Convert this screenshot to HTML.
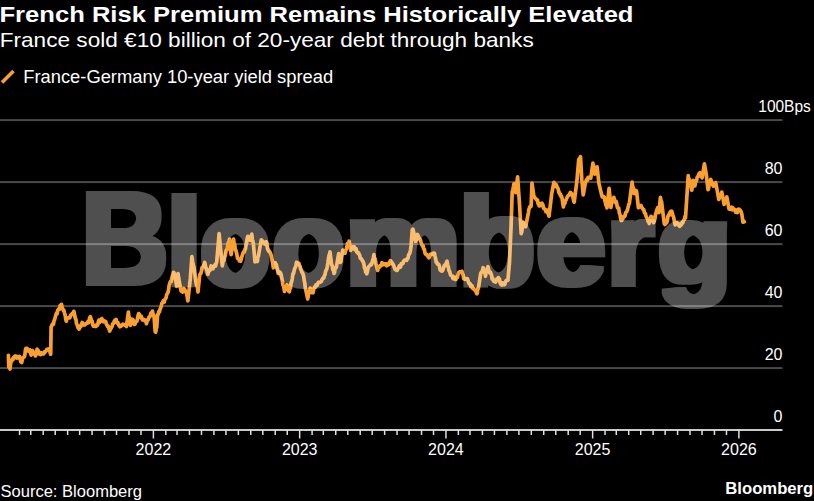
<!DOCTYPE html>
<html><head><meta charset="utf-8">
<style>
html,body{margin:0;padding:0;background:#000;}
body{width:814px;height:501px;overflow:hidden;position:relative;font-family:"Liberation Sans",sans-serif;color:#fff;}
svg{position:absolute;left:0;top:0;}
</style></head><body>
<svg width="814" height="501" viewBox="0 0 814 501" font-family="Liberation Sans, sans-serif">
<rect x="0" y="0" width="814" height="501" fill="#000"/>
<text x="-0.5" y="21.6" font-size="22.5" font-weight="bold" fill="#fff" textLength="634" lengthAdjust="spacingAndGlyphs">French Risk Premium Remains Historically Elevated</text>
<text x="-0.3" y="47.4" font-size="21" fill="#fff" textLength="534" lengthAdjust="spacingAndGlyphs">France sold €10 billion of 20-year debt through banks</text>
<line x1="2" y1="82.5" x2="13.5" y2="71" stroke="#f9a030" stroke-width="3.6" stroke-linecap="butt"/>
<text x="23.2" y="82.8" font-size="17.5" fill="#fff" textLength="310" lengthAdjust="spacingAndGlyphs">France-Germany 10-year yield spread</text>
<g fill="#4a4a4a"><rect x="0" y="119.1" width="782.5" height="2" /><rect x="0" y="181.1" width="782.5" height="2" /><rect x="0" y="243.1" width="782.5" height="2" /><rect x="0" y="305.1" width="782.5" height="2" /><rect x="0" y="367.1" width="782.5" height="2" /></g>
<path d="M8.4,355.4 L8.8,367.2 L9.4,367.1 L10.0,369.0 L10.6,363.6 L11.2,361.4 L11.8,360.5 L12.4,359.2 L12.9,359.8 L13.5,357.6 L14.0,358.0 L14.7,356.4 L15.3,355.9 L16.0,356.4 L16.5,358.1 L17.1,356.5 L17.6,357.4 L18.3,357.9 L18.9,358.2 L19.6,356.4 L20.1,358.0 L20.7,361.8 L21.2,361.1 L21.7,362.5 L22.3,359.7 L22.8,358.2 L23.6,357.2 L24.3,356.8 L24.8,355.3 L25.4,350.3 L25.9,348.4 L26.4,348.9 L27.0,348.4 L27.5,349.1 L28.1,349.5 L28.7,351.3 L29.3,350.1 L29.9,349.9 L30.5,352.4 L31.1,355.2 L31.7,353.5 L32.3,350.5 L32.8,350.8 L33.4,353.1 L33.9,353.6 L34.4,353.2 L35.0,355.1 L35.5,355.9 L36.0,354.9 L36.6,352.5 L37.1,349.2 L37.6,352.2 L38.2,350.5 L38.7,352.4 L39.4,354.0 L40.0,352.9 L40.7,354.6 L41.2,352.7 L41.8,354.0 L42.3,353.8 L43.0,353.1 L43.6,353.9 L44.3,352.0 L45.0,352.4 L45.6,351.3 L46.3,350.4 L46.8,349.4 L47.4,349.9 L47.9,349.5 L48.4,348.9 L49.0,350.3 L49.5,349.3 L50.1,352.8 L50.7,354.2 L51.1,326.9 L51.7,326.0 L52.3,324.0 L52.9,323.9 L53.5,324.3 L54.1,320.4 L54.7,319.7 L55.3,316.8 L55.9,314.7 L56.5,313.1 L57.1,313.8 L57.7,310.5 L58.3,309.4 L58.9,308.7 L59.6,309.0 L60.2,305.4 L60.9,305.3 L61.5,304.4 L62.1,307.1 L62.7,308.6 L63.3,310.4 L63.9,310.3 L64.5,312.9 L65.1,315.0 L65.7,318.8 L66.3,321.2 L66.9,318.4 L67.4,318.1 L68.0,318.0 L68.6,317.6 L69.2,318.0 L69.7,318.0 L70.3,316.7 L70.9,314.8 L71.5,314.9 L72.0,313.7 L72.6,313.1 L73.2,313.2 L73.8,311.3 L74.3,313.2 L74.8,316.0 L75.4,318.7 L75.9,319.3 L76.5,323.5 L77.2,324.9 L77.8,326.9 L78.5,328.5 L79.1,329.0 L79.7,327.9 L80.4,325.9 L81.0,326.4 L81.7,323.6 L82.3,322.5 L82.9,323.5 L83.5,324.0 L84.1,325.1 L84.7,324.9 L85.3,324.1 L86.0,323.9 L86.6,323.1 L87.3,323.2 L87.9,321.6 L88.5,322.7 L89.1,320.5 L89.7,317.7 L90.3,316.7 L90.9,318.5 L91.5,320.2 L92.1,321.1 L92.7,324.8 L93.3,326.1 L93.9,325.3 L94.6,326.1 L95.2,325.7 L95.8,326.5 L96.4,326.0 L97.0,324.6 L97.7,325.0 L98.3,321.8 L98.9,320.2 L99.5,322.6 L100.1,321.1 L100.7,319.6 L101.2,320.5 L101.8,318.6 L102.4,319.8 L103.0,321.6 L103.5,321.8 L104.1,321.7 L104.7,320.9 L105.2,321.7 L105.8,321.6 L106.4,324.4 L106.9,324.7 L107.5,326.4 L108.0,326.0 L108.6,326.7 L109.1,329.4 L109.7,331.0 L110.3,329.6 L110.9,328.5 L111.5,327.5 L112.1,326.3 L112.7,323.8 L113.3,323.9 L113.8,322.7 L114.4,320.9 L115.0,320.2 L115.5,320.2 L116.1,319.4 L116.7,321.6 L117.3,323.2 L118.0,322.6 L118.6,324.9 L119.2,325.9 L119.8,326.7 L120.4,325.7 L121.0,326.2 L121.6,325.5 L122.2,324.7 L122.8,324.1 L123.4,324.7 L124.0,324.8 L124.6,325.1 L125.2,324.5 L125.8,325.6 L126.4,326.5 L128.4,312.1 L129.1,317.5 L129.7,322.1 L130.4,325.4 L131.0,323.9 L131.6,321.6 L132.2,319.2 L132.8,319.6 L133.6,320.6 L134.3,324.5 L135.0,324.3 L135.6,322.0 L136.3,321.3 L136.9,321.2 L137.5,318.8 L138.1,315.4 L138.7,313.6 L139.3,314.3 L140.0,317.1 L140.6,317.5 L141.3,316.1 L141.9,318.8 L142.6,319.9 L143.2,319.6 L143.8,319.3 L144.5,320.5 L145.1,319.9 L145.8,320.2 L146.4,323.7 L147.0,321.5 L147.7,319.8 L148.3,319.8 L149.0,317.0 L149.6,317.0 L150.2,316.1 L150.8,313.4 L151.3,312.8 L151.9,312.1 L152.5,311.1 L153.0,314.0 L153.6,314.9 L154.1,317.3 L155.2,331.6 L155.7,332.1 L156.3,328.5 L156.8,327.0 L157.6,314.6 L158.2,314.3 L158.8,311.7 L159.4,312.0 L160.0,309.5 L160.6,308.0 L161.2,306.4 L161.8,303.3 L162.4,302.9 L163.0,301.5 L163.6,300.4 L164.2,302.2 L164.8,299.7 L165.3,299.0 L165.9,298.2 L166.4,296.1 L166.9,294.1 L167.5,293.4 L168.0,292.2 L168.5,290.2 L169.1,285.5 L169.6,284.2 L170.1,282.2 L170.7,281.2 L171.2,281.6 L171.8,278.4 L172.3,276.2 L172.9,274.4 L173.5,272.4 L174.0,272.6 L174.6,274.7 L175.1,276.0 L175.6,279.5 L176.2,283.5 L176.7,286.3 L178.0,273.7 L178.6,277.0 L179.3,281.9 L179.9,284.6 L180.4,287.8 L181.0,290.7 L181.5,291.3 L182.1,291.6 L182.7,292.1 L183.3,291.2 L183.9,288.5 L184.5,289.4 L185.1,291.4 L185.7,291.2 L186.3,292.7 L186.8,294.4 L187.4,298.3 L187.9,300.8 L190.3,278.9 L191.9,256.7 L192.6,261.8 L193.2,265.1 L193.9,267.0 L195.9,282.0 L196.6,285.5 L197.3,286.5 L198.0,291.9 L199.6,275.8 L200.2,273.9 L200.9,273.3 L201.5,270.7 L202.1,267.4 L202.8,266.9 L203.4,265.9 L204.1,264.1 L204.7,262.4 L205.3,265.0 L206.0,268.4 L206.6,268.6 L207.3,272.4 L207.9,274.3 L208.5,271.6 L209.2,271.1 L209.8,270.6 L210.5,268.8 L211.1,266.0 L211.7,268.8 L212.4,268.2 L213.0,268.7 L213.7,266.1 L214.3,266.6 L214.9,264.9 L215.5,266.1 L216.1,263.6 L216.7,262.2 L219.1,233.6 L220.7,250.2 L222.3,265.9 L222.9,262.2 L223.5,259.9 L224.1,260.2 L224.7,257.2 L225.3,255.6 L225.9,251.8 L226.5,249.7 L227.1,249.6 L227.7,246.2 L228.3,242.5 L228.9,242.5 L229.5,239.0 L231.1,254.6 L233.5,239.0 L234.1,243.8 L234.7,244.0 L235.2,249.0 L235.8,250.4 L236.4,252.2 L237.0,255.1 L237.6,258.4 L238.2,258.6 L238.8,259.0 L239.4,261.0 L240.0,260.9 L240.6,261.3 L241.2,259.3 L241.8,256.8 L242.4,255.0 L243.0,253.1 L243.6,251.9 L244.2,252.1 L244.8,249.5 L245.4,249.0 L246.0,245.0 L246.6,242.5 L247.2,238.6 L247.8,236.3 L248.4,236.5 L249.0,239.7 L249.6,240.2 L250.2,240.1 L250.7,239.1 L251.3,238.6 L251.8,234.2 L252.3,239.3 L252.9,241.1 L253.4,244.2 L255.0,261.9 L255.6,260.4 L256.2,260.5 L256.8,260.9 L257.4,261.5 L257.9,257.0 L258.5,255.8 L259.0,252.7 L261.3,239.8 L261.9,240.3 L262.5,241.3 L263.1,241.7 L263.7,243.1 L264.3,242.5 L264.9,244.1 L265.5,242.3 L266.1,241.6 L266.7,243.3 L267.3,247.6 L267.9,249.6 L268.5,251.0 L269.1,250.8 L269.7,251.7 L270.3,252.9 L270.9,254.4 L271.5,256.5 L272.1,260.3 L272.7,262.8 L273.3,267.9 L273.9,266.9 L274.5,264.6 L275.1,262.7 L275.7,263.9 L276.3,264.7 L276.9,267.7 L277.5,269.4 L278.1,273.3 L278.7,273.4 L279.3,273.3 L279.9,272.2 L280.5,272.9 L281.1,274.4 L281.7,278.2 L282.3,280.7 L282.9,284.6 L283.4,285.9 L284.0,288.3 L284.5,291.5 L285.1,289.3 L285.7,288.4 L286.3,286.2 L286.9,284.9 L287.5,286.6 L288.1,288.7 L288.7,291.2 L289.3,291.8 L289.9,288.8 L290.5,288.0 L291.1,282.6 L291.7,281.6 L292.3,278.5 L292.9,273.9 L293.5,273.5 L294.1,270.9 L294.7,268.5 L295.3,267.2 L295.9,265.8 L296.5,262.2 L297.1,263.2 L297.7,262.9 L298.3,263.7 L298.9,263.4 L299.5,265.3 L300.1,266.4 L300.7,269.1 L301.3,270.2 L301.9,272.3 L302.5,272.9 L303.1,274.3 L303.7,276.6 L304.2,280.5 L304.8,282.9 L305.3,288.3 L305.9,290.3 L306.5,293.3 L307.1,296.1 L307.7,299.0 L308.3,295.7 L308.9,291.4 L309.5,291.0 L310.1,288.0 L310.7,288.9 L311.2,290.6 L311.8,292.6 L312.4,292.4 L313.0,292.8 L313.6,289.8 L314.2,287.6 L314.8,286.6 L315.4,287.2 L316.0,284.8 L316.6,285.6 L317.2,285.5 L317.8,283.5 L318.4,282.5 L319.0,282.2 L319.6,282.3 L320.2,282.3 L320.8,281.7 L321.4,281.5 L322.0,279.6 L322.6,278.6 L323.2,277.8 L323.8,278.0 L324.4,275.5 L325.0,274.7 L325.6,271.4 L326.2,270.0 L326.8,269.0 L327.3,266.5 L327.9,262.8 L328.4,259.0 L328.9,255.7 L329.5,254.3 L330.0,252.0 L331.6,264.8 L332.2,265.6 L332.8,269.7 L333.4,269.4 L334.0,273.5 L334.6,272.0 L335.1,267.9 L335.7,267.8 L336.3,267.5 L338.7,253.5 L339.2,255.7 L339.8,258.9 L340.3,262.4 L340.9,261.6 L341.5,256.4 L342.1,254.5 L342.7,250.2 L343.3,251.6 L343.9,253.1 L344.5,250.8 L345.1,253.1 L345.7,250.2 L346.3,249.3 L346.9,246.8 L347.5,243.4 L348.0,244.9 L348.6,243.1 L349.1,241.2 L349.6,243.7 L350.2,247.8 L350.7,250.4 L351.3,249.1 L351.9,247.9 L352.5,247.7 L353.1,246.8 L353.7,248.8 L354.3,246.7 L354.9,249.4 L355.5,250.0 L356.1,248.6 L356.7,251.8 L357.3,252.0 L357.9,253.3 L358.5,252.7 L359.1,254.1 L359.7,255.4 L360.3,258.4 L360.9,258.4 L361.5,258.9 L362.1,260.3 L362.7,261.0 L363.3,262.1 L363.9,264.1 L364.5,268.1 L365.1,268.3 L365.6,272.1 L366.2,271.9 L366.7,273.8 L367.3,272.1 L367.9,268.8 L368.5,266.9 L369.1,266.3 L369.7,265.7 L370.3,265.0 L370.9,264.1 L371.5,264.5 L372.1,262.8 L372.7,259.8 L373.3,258.6 L373.9,254.7 L374.4,258.1 L375.0,258.6 L375.5,260.9 L376.0,263.7 L376.6,265.9 L377.1,268.3 L377.7,270.4 L378.3,267.4 L378.9,267.8 L379.5,266.8 L380.1,265.7 L380.7,266.0 L381.3,265.7 L381.9,262.6 L382.5,264.2 L383.1,263.5 L383.7,264.7 L384.3,264.6 L384.9,263.8 L385.4,263.7 L386.0,263.8 L386.6,265.8 L387.1,264.5 L387.7,263.6 L388.4,264.9 L389.0,264.5 L389.7,262.2 L390.4,260.6 L390.9,261.5 L391.5,261.9 L392.0,263.4 L392.6,263.4 L393.1,264.5 L393.7,265.5 L394.3,267.3 L394.9,269.2 L395.5,269.6 L396.1,269.5 L396.7,270.4 L397.4,269.9 L398.0,268.5 L398.7,267.5 L399.4,265.8 L400.0,265.7 L400.6,267.0 L401.2,263.7 L401.8,264.1 L402.4,263.7 L403.0,263.7 L403.6,261.1 L404.2,260.7 L404.8,260.0 L405.4,259.9 L406.0,259.4 L406.6,260.4 L407.3,259.1 L408.0,258.3 L408.6,254.9 L409.3,254.0 L409.9,252.8 L410.5,250.1 L411.1,245.5 L412.3,229.7 L412.9,229.1 L413.5,231.5 L414.1,234.3 L414.9,237.6 L415.6,241.3 L416.2,240.1 L416.8,236.4 L417.4,234.5 L417.9,235.2 L418.5,236.8 L419.0,237.9 L419.6,239.2 L420.1,239.1 L420.7,240.9 L421.3,243.4 L421.9,244.6 L422.5,246.1 L423.1,245.7 L423.7,249.1 L424.4,249.3 L425.0,253.1 L425.6,254.1 L426.3,254.8 L427.0,254.7 L427.6,255.6 L428.3,257.2 L429.0,257.8 L429.7,255.2 L430.4,254.2 L431.0,254.6 L431.7,253.9 L432.4,253.6 L433.0,253.3 L433.7,254.7 L434.4,253.1 L435.0,256.1 L435.6,258.6 L436.2,262.2 L436.9,262.4 L437.5,264.2 L438.2,264.1 L438.9,264.5 L439.4,266.0 L440.0,269.6 L440.5,270.2 L441.1,270.5 L441.6,271.1 L442.3,270.9 L443.0,269.9 L443.6,267.5 L444.3,265.5 L445.0,265.8 L445.6,265.7 L446.3,262.7 L447.0,261.2 L447.7,264.6 L448.4,267.3 L449.0,270.6 L449.7,271.6 L450.4,274.5 L451.0,275.5 L451.7,275.9 L452.4,276.1 L453.0,278.7 L453.6,277.0 L454.2,278.9 L454.8,277.4 L455.4,277.7 L456.0,279.6 L456.7,276.8 L457.4,277.5 L458.0,274.7 L458.7,272.5 L459.4,271.9 L460.0,271.8 L460.7,271.9 L461.4,272.0 L462.0,271.3 L462.5,273.7 L463.1,274.8 L463.7,278.7 L464.2,277.9 L464.8,279.3 L465.4,278.5 L466.0,278.7 L466.6,279.4 L467.2,278.6 L467.8,279.7 L468.4,282.1 L469.0,283.5 L469.6,283.3 L470.2,283.7 L470.8,286.7 L471.4,286.9 L472.0,285.6 L472.6,288.3 L473.2,288.2 L473.8,289.0 L474.4,289.7 L475.0,290.2 L475.6,290.7 L476.2,292.5 L476.8,293.8 L477.3,293.2 L477.9,288.3 L478.4,288.4 L480.7,273.4 L481.3,272.3 L481.9,272.1 L482.5,270.5 L483.1,267.7 L483.7,268.3 L484.3,271.4 L484.9,272.8 L485.5,276.3 L486.1,272.3 L486.7,271.0 L487.3,270.9 L487.9,266.5 L488.5,269.0 L489.1,271.6 L489.7,272.9 L490.3,272.1 L490.9,273.5 L491.5,274.9 L492.1,278.9 L492.7,278.3 L493.3,280.3 L493.9,281.4 L494.5,280.3 L495.1,280.7 L495.7,282.1 L496.4,280.5 L497.0,278.8 L497.7,279.5 L498.3,277.6 L498.9,278.7 L499.5,279.1 L500.1,282.6 L500.7,284.2 L501.3,283.8 L501.9,285.1 L502.5,282.8 L503.1,283.8 L503.7,283.9 L504.3,284.8 L504.9,284.2 L505.5,281.9 L506.1,280.7 L506.7,280.4 L507.3,279.8 L507.9,280.3 L509.5,262.1 L511.1,225.7 L512.2,192.0 L512.8,189.6 L513.4,186.8 L514.0,183.6 L514.6,186.1 L515.2,189.3 L515.8,192.7 L517.6,176.9 L519.4,202.6 L521.2,233.6 L521.8,231.7 L522.4,226.5 L523.0,222.4 L523.5,222.7 L524.1,224.6 L524.6,224.3 L525.2,226.6 L525.7,226.7 L528.4,212.6 L528.9,209.3 L529.5,207.7 L530.0,206.6 L530.6,206.8 L531.1,206.3 L532.0,183.1 L533.8,195.9 L534.3,196.8 L534.9,197.8 L535.4,198.3 L536.0,198.9 L536.5,199.5 L537.0,200.4 L537.6,200.2 L538.1,203.8 L538.7,203.6 L539.2,205.9 L539.9,204.9 L540.5,205.5 L541.2,203.4 L541.9,203.1 L542.4,204.2 L543.0,205.0 L543.5,208.3 L544.1,208.5 L544.6,208.8 L545.2,209.4 L545.9,211.7 L546.6,210.7 L547.2,210.3 L547.8,213.2 L548.4,214.0 L549.0,216.2 L551.7,193.7 L553.9,182.3 L554.5,184.3 L555.0,185.2 L555.6,186.3 L556.2,184.6 L556.9,186.7 L557.5,187.5 L558.2,189.0 L558.9,192.7 L559.4,192.6 L560.0,194.8 L560.5,194.2 L561.1,196.7 L561.6,196.5 L562.2,199.0 L562.8,203.5 L563.4,207.0 L563.9,203.4 L564.5,203.8 L565.0,202.8 L565.6,200.5 L566.1,199.9 L566.8,197.9 L567.5,196.8 L568.1,195.6 L568.8,195.3 L569.3,195.1 L569.9,193.4 L570.4,192.4 L571.0,193.0 L571.5,193.6 L572.0,194.0 L572.6,196.1 L573.1,197.6 L573.7,201.2 L574.2,202.2 L576.9,181.1 L578.7,159.6 L579.3,159.0 L579.9,158.0 L580.5,156.7 L581.8,179.4 L583.2,194.8 L585.4,183.0 L585.9,181.2 L586.5,179.9 L587.0,179.1 L587.6,180.2 L588.1,177.3 L588.8,177.9 L589.5,177.0 L590.1,177.0 L590.8,178.1 L592.9,163.2 L593.5,165.2 L594.1,168.6 L594.7,174.1 L595.3,170.9 L595.9,168.8 L596.5,169.9 L597.1,166.9 L598.9,183.4 L601.6,194.6 L602.3,196.9 L603.0,196.6 L603.6,196.6 L604.3,197.0 L604.8,200.5 L605.4,202.5 L605.9,205.1 L606.5,204.5 L607.0,207.9 L609.1,188.3 L610.9,207.5 L611.5,204.0 L612.1,201.9 L612.7,200.1 L613.3,198.9 L613.8,197.3 L614.4,199.4 L614.9,201.2 L615.5,202.6 L616.0,201.2 L616.5,202.4 L617.1,206.3 L617.6,207.8 L618.2,207.8 L618.7,208.0 L619.4,213.3 L620.0,214.4 L620.6,218.6 L621.3,220.5 L621.8,220.4 L622.4,217.6 L622.9,218.8 L623.5,216.4 L624.0,216.2 L624.5,216.6 L625.1,215.7 L625.6,212.8 L626.2,212.1 L626.7,211.7 L627.4,210.0 L628.0,207.6 L628.7,204.8 L629.4,203.1 L632.1,182.2 L632.7,186.6 L633.3,187.9 L633.9,193.3 L634.4,193.5 L635.0,191.0 L635.5,193.0 L636.1,190.5 L636.6,191.6 L638.4,207.7 L638.9,207.5 L639.5,206.2 L640.0,206.2 L640.6,206.3 L641.1,205.5 L641.8,207.5 L642.5,208.2 L643.1,209.6 L643.8,209.7 L644.3,212.5 L644.9,213.2 L645.4,213.5 L646.0,216.2 L646.5,217.3 L647.0,218.0 L647.6,218.8 L648.1,221.3 L648.7,221.8 L649.2,223.5 L649.8,221.7 L650.4,218.0 L651.0,216.3 L651.5,217.6 L652.1,217.3 L652.6,220.1 L653.2,219.6 L653.7,222.6 L654.4,220.9 L655.0,218.2 L655.5,214.2 L656.1,212.9 L656.7,209.8 L657.2,208.9 L657.8,207.6 L658.4,211.0 L659.0,212.6 L660.4,197.4 L661.0,200.6 L661.6,201.8 L662.2,207.1 L664.3,223.6 L664.9,224.5 L665.5,223.9 L666.1,221.2 L666.7,222.7 L667.3,221.0 L667.9,216.4 L668.5,215.2 L669.0,215.5 L669.6,212.8 L670.1,214.1 L670.7,211.3 L671.2,212.0 L671.8,211.2 L672.4,213.5 L673.0,216.0 L673.5,216.5 L674.0,219.3 L674.6,222.7 L675.1,224.9 L675.7,223.3 L676.2,223.1 L676.8,222.4 L677.4,224.0 L677.9,224.0 L678.5,225.3 L679.0,223.9 L679.6,226.4 L680.1,225.1 L680.8,225.3 L681.5,224.5 L682.1,222.5 L682.8,222.9 L683.3,220.9 L683.9,219.9 L684.4,219.8 L685.0,216.4 L685.5,218.0 L687.3,189.9 L688.2,175.7 L688.8,179.0 L689.4,179.5 L690.0,183.8 L690.6,184.9 L691.2,186.7 L691.8,190.3 L692.5,185.3 L693.1,180.4 L693.7,183.3 L694.3,182.4 L694.9,186.0 L695.5,182.2 L696.0,181.4 L696.6,180.4 L697.2,177.2 L697.9,176.7 L698.5,175.0 L699.2,173.4 L699.9,172.8 L700.5,174.0 L701.0,176.3 L701.5,176.7 L702.1,177.8 L704.4,163.8 L706.2,174.0 L708.0,189.6 L708.5,188.9 L709.1,185.0 L709.6,183.0 L710.2,182.0 L710.7,179.3 L711.4,181.4 L712.0,182.4 L712.7,184.8 L713.4,186.2 L713.9,184.5 L714.5,185.2 L715.0,184.2 L715.6,182.6 L716.1,184.5 L718.8,199.5 L719.4,197.4 L720.0,195.5 L720.6,195.3 L721.2,194.2 L721.8,192.1 L724.1,204.5 L724.8,202.1 L725.5,199.3 L726.1,199.2 L726.8,196.9 L729.0,208.9 L729.6,209.3 L730.1,208.2 L730.7,209.3 L731.3,208.2 L731.8,207.3 L732.4,209.8 L732.9,207.8 L733.5,209.8 L734.0,209.9 L734.5,209.8 L735.1,209.6 L735.6,212.1 L736.2,210.2 L736.7,212.2 L737.4,212.6 L738.0,209.6 L738.7,209.1 L739.4,209.6 L740.0,209.9 L740.6,210.9 L741.2,212.0 L741.8,214.0 L742.4,218.3 L743.0,222.1 L743.6,220.9 L744.3,221.8" fill="none" stroke="#f9a030" stroke-width="3.7" stroke-linejoin="round" stroke-linecap="round"/>
<defs><filter id="dil" x="-5%" y="-10%" width="110%" height="120%"><feMorphology operator="dilate" radius="4.0 2.0"/></filter></defs><g opacity="0.31"><g font-size="122" font-weight="bold" fill="#fff" filter="url(#dil)"><text transform="translate(82.03,284.40) scale(0.9707,1.0786)" x="0" y="0">B</text><text transform="translate(166.71,284.50) scale(1.0235,1.0191)" x="0" y="0">l</text><text transform="translate(200.53,285.99) scale(0.9338,1.0060)" x="0" y="0">o</text><text transform="translate(272.69,286.00) scale(0.9615,1.0045)" x="0" y="0">o</text><text transform="translate(345.29,284.50) scale(1.0634,0.9864)" x="0" y="0">m</text><text transform="translate(459.27,285.97) scale(1.0161,1.0333)" x="0" y="0">b</text><text transform="translate(536.52,285.20) scale(1.0169,1.0030)" x="0" y="0">e</text><text transform="translate(607.23,284.90) scale(0.9711,0.9742)" x="0" y="0">r</text><text transform="translate(657.99,282.62) scale(0.9820,0.9337)" x="0" y="0">g</text></g></g>
<rect x="0" y="429" width="782.5" height="2" fill="#cacaca"/>
<g stroke="#dedede" stroke-width="1.5"><line x1="19.55" y1="430" x2="19.55" y2="435" /><line x1="30.77" y1="430" x2="30.77" y2="435" /><line x1="43.19" y1="430" x2="43.19" y2="435" /><line x1="55.22" y1="430" x2="55.22" y2="435" /><line x1="67.64" y1="430" x2="67.64" y2="435" /><line x1="79.66" y1="430" x2="79.66" y2="435" /><line x1="92.08" y1="430" x2="92.08" y2="435" /><line x1="104.51" y1="430" x2="104.51" y2="435" /><line x1="116.53" y1="430" x2="116.53" y2="435" /><line x1="128.95" y1="430" x2="128.95" y2="435" /><line x1="140.98" y1="430" x2="140.98" y2="435" /><line x1="153.40" y1="430" x2="153.40" y2="438.5" /><line x1="165.82" y1="430" x2="165.82" y2="435" /><line x1="177.04" y1="430" x2="177.04" y2="435" /><line x1="189.47" y1="430" x2="189.47" y2="435" /><line x1="201.49" y1="430" x2="201.49" y2="435" /><line x1="213.91" y1="430" x2="213.91" y2="435" /><line x1="225.94" y1="430" x2="225.94" y2="435" /><line x1="238.36" y1="430" x2="238.36" y2="435" /><line x1="250.78" y1="430" x2="250.78" y2="435" /><line x1="262.81" y1="430" x2="262.81" y2="435" /><line x1="275.23" y1="430" x2="275.23" y2="435" /><line x1="287.25" y1="430" x2="287.25" y2="435" /><line x1="299.67" y1="430" x2="299.67" y2="438.5" /><line x1="312.10" y1="430" x2="312.10" y2="435" /><line x1="323.32" y1="430" x2="323.32" y2="435" /><line x1="335.74" y1="430" x2="335.74" y2="435" /><line x1="347.77" y1="430" x2="347.77" y2="435" /><line x1="360.19" y1="430" x2="360.19" y2="435" /><line x1="372.21" y1="430" x2="372.21" y2="435" /><line x1="384.63" y1="430" x2="384.63" y2="435" /><line x1="397.06" y1="430" x2="397.06" y2="435" /><line x1="409.08" y1="430" x2="409.08" y2="435" /><line x1="421.50" y1="430" x2="421.50" y2="435" /><line x1="433.53" y1="430" x2="433.53" y2="435" /><line x1="445.95" y1="430" x2="445.95" y2="438.5" /><line x1="458.37" y1="430" x2="458.37" y2="435" /><line x1="469.99" y1="430" x2="469.99" y2="435" /><line x1="482.42" y1="430" x2="482.42" y2="435" /><line x1="494.44" y1="430" x2="494.44" y2="435" /><line x1="506.86" y1="430" x2="506.86" y2="435" /><line x1="518.89" y1="430" x2="518.89" y2="435" /><line x1="531.31" y1="430" x2="531.31" y2="435" /><line x1="543.73" y1="430" x2="543.73" y2="435" /><line x1="555.76" y1="430" x2="555.76" y2="435" /><line x1="568.18" y1="430" x2="568.18" y2="435" /><line x1="580.20" y1="430" x2="580.20" y2="435" /><line x1="592.63" y1="430" x2="592.63" y2="438.5" /><line x1="605.05" y1="430" x2="605.05" y2="435" /><line x1="616.27" y1="430" x2="616.27" y2="435" /><line x1="628.69" y1="430" x2="628.69" y2="435" /><line x1="640.72" y1="430" x2="640.72" y2="435" /><line x1="653.14" y1="430" x2="653.14" y2="435" /><line x1="665.16" y1="430" x2="665.16" y2="435" /><line x1="677.58" y1="430" x2="677.58" y2="435" /><line x1="690.01" y1="430" x2="690.01" y2="435" /><line x1="702.03" y1="430" x2="702.03" y2="435" /><line x1="714.45" y1="430" x2="714.45" y2="435" /><line x1="726.48" y1="430" x2="726.48" y2="435" /><line x1="738.90" y1="430" x2="738.90" y2="438.5" /></g>
<g font-size="16" fill="#fff"><text x="758.3" y="111.5" textLength="52.5" lengthAdjust="spacingAndGlyphs">100Bps</text><text x="782.5" y="173.5" text-anchor="end">80</text><text x="782.5" y="235.5" text-anchor="end">60</text><text x="782.5" y="297.5" text-anchor="end">40</text><text x="782.5" y="359.5" text-anchor="end">20</text><text x="782.5" y="421.5" text-anchor="end">0</text></g>
<g font-size="16" fill="#fff"><text x="153.4" y="455" text-anchor="middle">2022</text><text x="299.7" y="455" text-anchor="middle">2023</text><text x="445.9" y="455" text-anchor="middle">2024</text><text x="592.6" y="455" text-anchor="middle">2025</text><text x="738.9" y="455" text-anchor="middle">2026</text></g>
<text x="0.5" y="496.7" font-size="16" fill="#fff" textLength="141.5" lengthAdjust="spacingAndGlyphs">Source: Bloomberg</text>
<text x="725.3" y="494" font-size="16" font-weight="bold" fill="#fff" textLength="88" lengthAdjust="spacingAndGlyphs">Bloomberg</text>
</svg>
</body></html>
